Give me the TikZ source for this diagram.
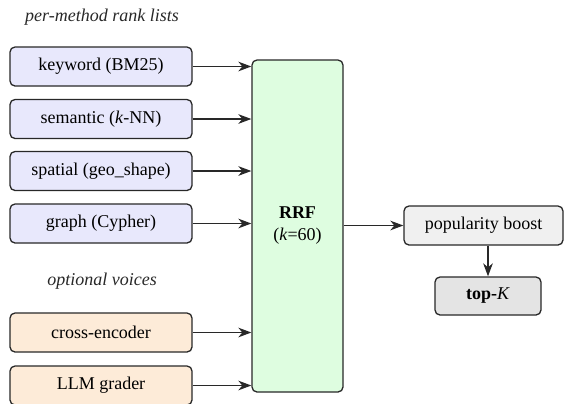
\documentclass[tikz,border=0pt]{standalone}
\usepackage{fontspec}
\setmainfont{Liberation Serif}
\usepackage{tikz}
\usetikzlibrary{positioning, arrows.meta}
\definecolor{borde}{RGB}{40, 40, 40}
\definecolor{lila}{RGB}{232, 232, 252}
\definecolor{naranja}{RGB}{253, 235, 216}
\definecolor{verde}{RGB}{222, 253, 224}
\definecolor{grisA}{RGB}{240, 240, 240}
\definecolor{grisB}{RGB}{228, 228, 228}
\tikzset{
    src/.style={draw=borde, fill=lila, rounded corners=2.5pt, line width=0.65pt, minimum width=91pt, minimum height=19.5pt, inner sep=0pt, font=\small},
    opt/.style={src, fill=naranja},
    fuse/.style={draw=borde, fill=verde, rounded corners=2.5pt, line width=0.65pt, minimum width=45.5pt, minimum height=166pt, inner sep=0pt, align=center, font=\small},
    post/.style={draw=borde, fill=grisA, rounded corners=2.5pt, line width=0.65pt, minimum height=19.5pt, inner sep=0pt, font=\small},
    hdr/.style={font=\small\itshape, text=borde},
    conn/.style={-{Stealth[length=6.5pt, width=4.8pt, inset=2pt]}, borde, line width=0.75pt},
}
\begin{document}
\begin{tikzpicture}[x=0.5pt, y=-0.5pt]
    \useasboundingbox (0,0) rectangle (568,403);

    \node [hdr] (hdr1) at (102,17) {per-method rank lists};
    \node [src] (kw)  at (101,66.5)  {keyword (BM25)};
    \node [src] (sem) at (101,119)   {semantic (\textit{k}-NN)};
    \node [src] (spa) at (101,171)   {spatial (geo\_shape)};
    \node [src] (gra) at (101,223.5) {graph (Cypher)};

    \node [hdr] (hdr2) at (102,281) {optional voices};
    \node [opt] (ce)  at (101,332.5) {cross-encoder};
    \node [opt] (llm) at (101,385.5) {LLM grader};

    \node [fuse] (rrf) at (297.5,226) {\textbf{RRF}\\(\textit{k}=60)};

    \node [post, minimum width=79.5pt] (pop) at (483.5,225.5) {popularity boost};
    \node [post, fill=grisB, minimum width=53pt, minimum height=19pt] (topk) at (488,296) {\textbf{top-}\textit{K}};

    \draw[conn] (kw)  -- (kw  -| rrf.west);
    \draw[conn] (sem) -- (sem -| rrf.west);
    \draw[conn] (spa) -- (spa -| rrf.west);
    \draw[conn] (gra) -- (gra -| rrf.west);
    \draw[conn] (ce)  -- (ce  -| rrf.west);
    \draw[conn] (llm) -- (llm -| rrf.west);
    \draw[conn] (rrf.east |- pop) -- (pop.west);
    \draw[conn] (topk.north |- pop.south) -- (topk.north);
\end{tikzpicture}
\end{document}
